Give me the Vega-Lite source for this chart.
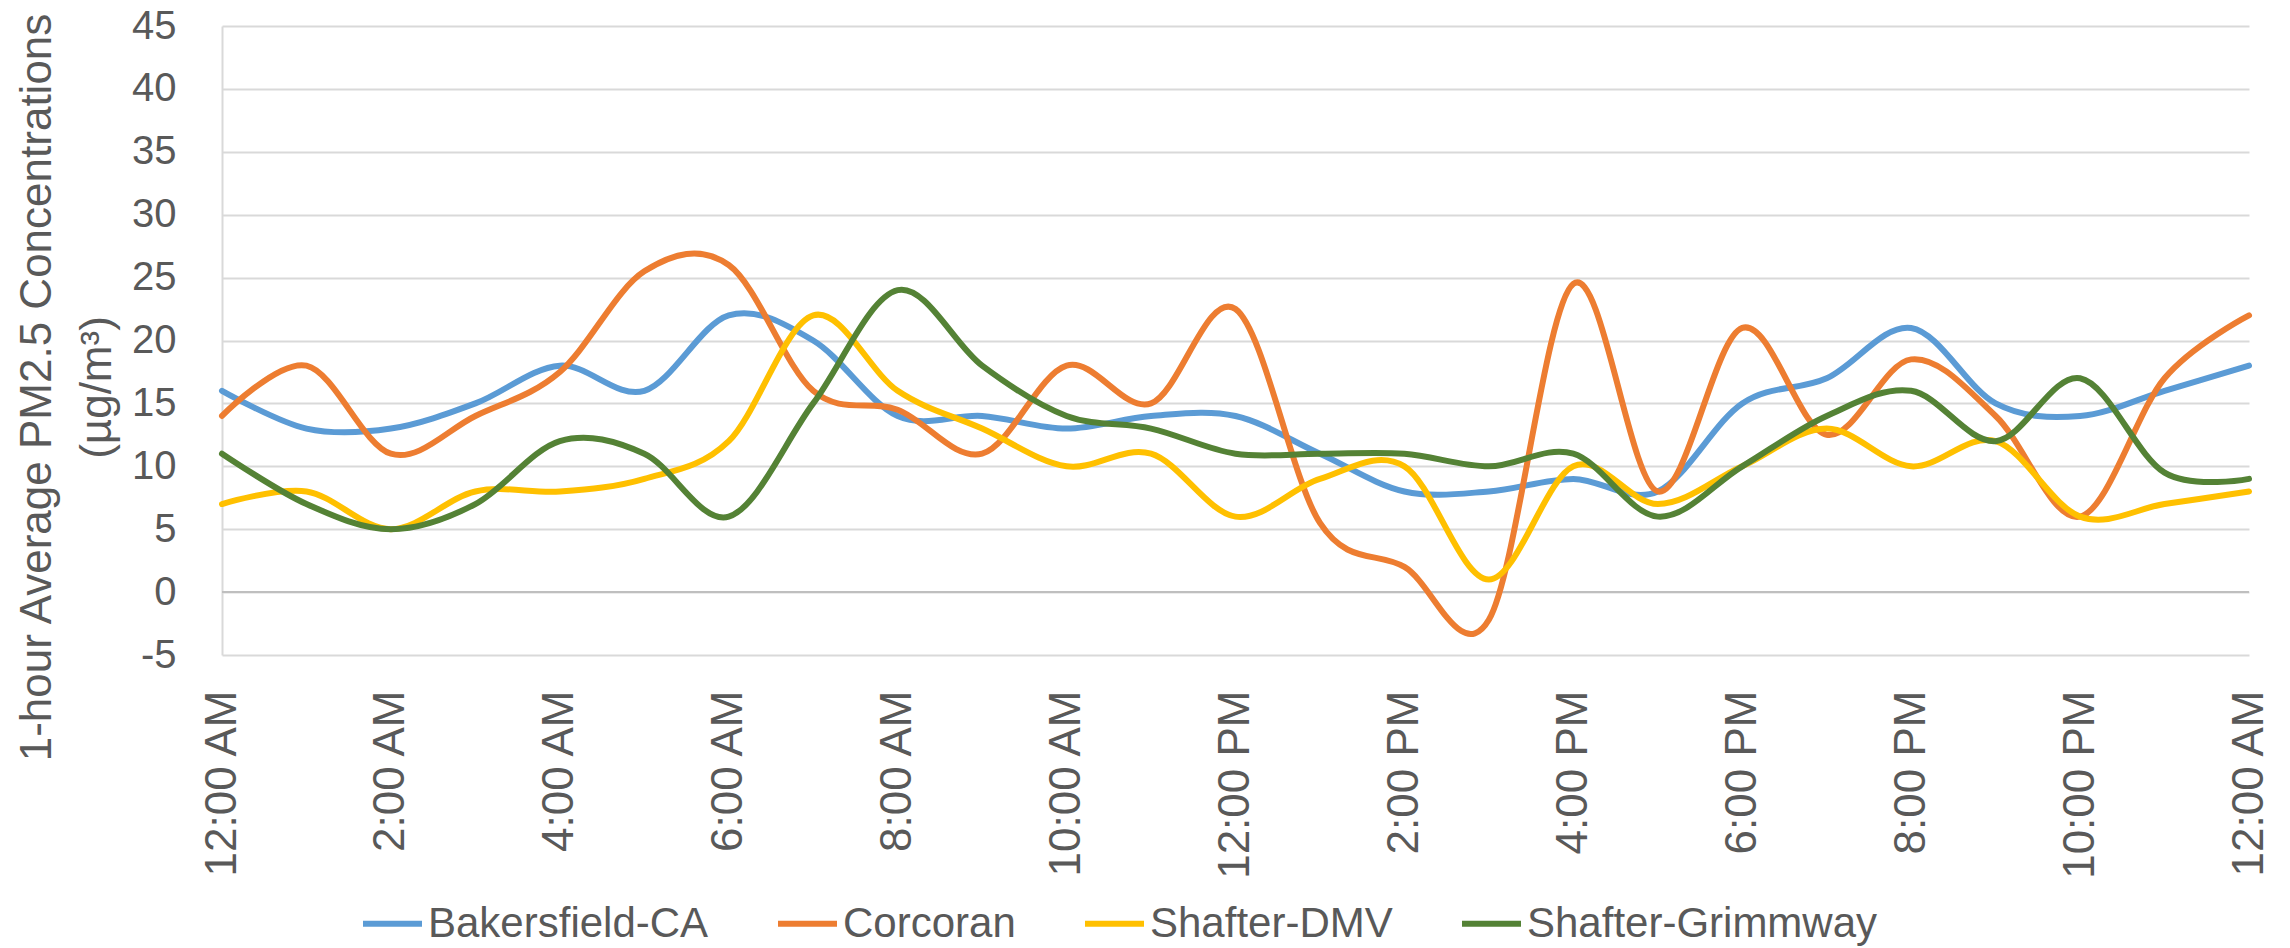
{
  "$schema": "https://vega.github.io/schema/vega-lite/v6.json",
  "width": 2027,
  "height": 629,
  "autosize": {"type": "none"},
  "padding": {"left": 222, "top": 26, "right": 41, "bottom": 293},
  "background": "white",
  "config": {"view": {"stroke": null}, "font": "Liberation Sans"},
  "datasets": {
    "pm": [
      {"hour": 0, "site": "Bakersfield-CA", "value": 16},
      {"hour": 1, "site": "Bakersfield-CA", "value": 13},
      {"hour": 2, "site": "Bakersfield-CA", "value": 13},
      {"hour": 3, "site": "Bakersfield-CA", "value": 15},
      {"hour": 4, "site": "Bakersfield-CA", "value": 18},
      {"hour": 5, "site": "Bakersfield-CA", "value": 16},
      {"hour": 6, "site": "Bakersfield-CA", "value": 22},
      {"hour": 7, "site": "Bakersfield-CA", "value": 20},
      {"hour": 8, "site": "Bakersfield-CA", "value": 14},
      {"hour": 9, "site": "Bakersfield-CA", "value": 14},
      {"hour": 10, "site": "Bakersfield-CA", "value": 13},
      {"hour": 11, "site": "Bakersfield-CA", "value": 14},
      {"hour": 12, "site": "Bakersfield-CA", "value": 14},
      {"hour": 13, "site": "Bakersfield-CA", "value": 11},
      {"hour": 14, "site": "Bakersfield-CA", "value": 8},
      {"hour": 15, "site": "Bakersfield-CA", "value": 8},
      {"hour": 16, "site": "Bakersfield-CA", "value": 9},
      {"hour": 17, "site": "Bakersfield-CA", "value": 8},
      {"hour": 18, "site": "Bakersfield-CA", "value": 15},
      {"hour": 19, "site": "Bakersfield-CA", "value": 17},
      {"hour": 20, "site": "Bakersfield-CA", "value": 21},
      {"hour": 21, "site": "Bakersfield-CA", "value": 15},
      {"hour": 22, "site": "Bakersfield-CA", "value": 14},
      {"hour": 23, "site": "Bakersfield-CA", "value": 16},
      {"hour": 24, "site": "Bakersfield-CA", "value": 18},
      {"hour": 0, "site": "Corcoran", "value": 14},
      {"hour": 1, "site": "Corcoran", "value": 18},
      {"hour": 2, "site": "Corcoran", "value": 11},
      {"hour": 3, "site": "Corcoran", "value": 14},
      {"hour": 4, "site": "Corcoran", "value": 17.5},
      {"hour": 5, "site": "Corcoran", "value": 25.5},
      {"hour": 6, "site": "Corcoran", "value": 26},
      {"hour": 7, "site": "Corcoran", "value": 16},
      {"hour": 8, "site": "Corcoran", "value": 14.5},
      {"hour": 9, "site": "Corcoran", "value": 11},
      {"hour": 10, "site": "Corcoran", "value": 18},
      {"hour": 11, "site": "Corcoran", "value": 15},
      {"hour": 12, "site": "Corcoran", "value": 22.5},
      {"hour": 13, "site": "Corcoran", "value": 5.5},
      {"hour": 14, "site": "Corcoran", "value": 2},
      {"hour": 15, "site": "Corcoran", "value": -2.2},
      {"hour": 16, "site": "Corcoran", "value": 24.5},
      {"hour": 17, "site": "Corcoran", "value": 8},
      {"hour": 18, "site": "Corcoran", "value": 21},
      {"hour": 19, "site": "Corcoran", "value": 12.5},
      {"hour": 20, "site": "Corcoran", "value": 18.5},
      {"hour": 21, "site": "Corcoran", "value": 14},
      {"hour": 22, "site": "Corcoran", "value": 6},
      {"hour": 23, "site": "Corcoran", "value": 17},
      {"hour": 24, "site": "Corcoran", "value": 22},
      {"hour": 0, "site": "Shafter-DMV", "value": 7},
      {"hour": 1, "site": "Shafter-DMV", "value": 8},
      {"hour": 2, "site": "Shafter-DMV", "value": 5},
      {"hour": 3, "site": "Shafter-DMV", "value": 8},
      {"hour": 4, "site": "Shafter-DMV", "value": 8},
      {"hour": 5, "site": "Shafter-DMV", "value": 9},
      {"hour": 6, "site": "Shafter-DMV", "value": 12},
      {"hour": 7, "site": "Shafter-DMV", "value": 22},
      {"hour": 8, "site": "Shafter-DMV", "value": 16},
      {"hour": 9, "site": "Shafter-DMV", "value": 13},
      {"hour": 10, "site": "Shafter-DMV", "value": 10},
      {"hour": 11, "site": "Shafter-DMV", "value": 11},
      {"hour": 12, "site": "Shafter-DMV", "value": 6},
      {"hour": 13, "site": "Shafter-DMV", "value": 9},
      {"hour": 14, "site": "Shafter-DMV", "value": 10},
      {"hour": 15, "site": "Shafter-DMV", "value": 1},
      {"hour": 16, "site": "Shafter-DMV", "value": 10},
      {"hour": 17, "site": "Shafter-DMV", "value": 7},
      {"hour": 18, "site": "Shafter-DMV", "value": 10},
      {"hour": 19, "site": "Shafter-DMV", "value": 13},
      {"hour": 20, "site": "Shafter-DMV", "value": 10},
      {"hour": 21, "site": "Shafter-DMV", "value": 12},
      {"hour": 22, "site": "Shafter-DMV", "value": 6},
      {"hour": 23, "site": "Shafter-DMV", "value": 7},
      {"hour": 24, "site": "Shafter-DMV", "value": 8},
      {"hour": 0, "site": "Shafter-Grimmway", "value": 11},
      {"hour": 1, "site": "Shafter-Grimmway", "value": 7},
      {"hour": 2, "site": "Shafter-Grimmway", "value": 5},
      {"hour": 3, "site": "Shafter-Grimmway", "value": 7},
      {"hour": 4, "site": "Shafter-Grimmway", "value": 12},
      {"hour": 5, "site": "Shafter-Grimmway", "value": 11},
      {"hour": 6, "site": "Shafter-Grimmway", "value": 6},
      {"hour": 7, "site": "Shafter-Grimmway", "value": 15},
      {"hour": 8, "site": "Shafter-Grimmway", "value": 24},
      {"hour": 9, "site": "Shafter-Grimmway", "value": 18},
      {"hour": 10, "site": "Shafter-Grimmway", "value": 14},
      {"hour": 11, "site": "Shafter-Grimmway", "value": 13},
      {"hour": 12, "site": "Shafter-Grimmway", "value": 11},
      {"hour": 13, "site": "Shafter-Grimmway", "value": 11},
      {"hour": 14, "site": "Shafter-Grimmway", "value": 11},
      {"hour": 15, "site": "Shafter-Grimmway", "value": 10},
      {"hour": 16, "site": "Shafter-Grimmway", "value": 11},
      {"hour": 17, "site": "Shafter-Grimmway", "value": 6},
      {"hour": 18, "site": "Shafter-Grimmway", "value": 10},
      {"hour": 19, "site": "Shafter-Grimmway", "value": 14},
      {"hour": 20, "site": "Shafter-Grimmway", "value": 16},
      {"hour": 21, "site": "Shafter-Grimmway", "value": 12},
      {"hour": 22, "site": "Shafter-Grimmway", "value": 17},
      {"hour": 23, "site": "Shafter-Grimmway", "value": 9.5},
      {"hour": 24, "site": "Shafter-Grimmway", "value": 9}
    ],
    "axisline": [{"v": 0}]
  },
  "layer": [
    {
      "data": {"name": "axisline"},
      "mark": {"type": "rule", "color": "#bfbfbf", "strokeWidth": 2},
      "encoding": {"y": {"field": "v", "type": "quantitative"}}
    },
    {
      "data": {"name": "pm"},
      "mark": {"type": "line", "interpolate": "cardinal", "strokeWidth": 6, "strokeCap": "round", "strokeJoin": "round"},
      "encoding": {
        "x": {
          "field": "hour",
          "type": "quantitative",
          "scale": {"domain": [0, 24], "nice": false, "zero": false},
          "axis": {
            "values": [0, 2, 4, 6, 8, 10, 12, 14, 16, 18, 20, 22, 24],
            "labelExpr": "(datum.value == 0 || datum.value == 24) ? '12:00 AM' : (datum.value == 12 ? '12:00 PM' : (datum.value < 12 ? datum.value + ':00 AM' : (datum.value - 12) + ':00 PM'))",
            "labelAngle": 270,
            "labelAlign": "right",
            "labelBaseline": "middle",
            "labelFontSize": 44,
            "labelColor": "#595959",
            "labelPadding": 35,
            "labelLimit": 0,
            "labelOverlap": false,
            "labelFlush": false,
            "grid": false,
            "domain": false,
            "ticks": false,
            "tickSize": 0,
            "title": null
          }
        },
        "y": {
          "field": "value",
          "type": "quantitative",
          "scale": {"domain": [-5, 45], "nice": false, "zero": false},
          "axis": {
            "values": [-5, 0, 5, 10, 15, 20, 25, 30, 35, 40, 45],
            "labelExpr": "'' + datum.value",
            "grid": true,
            "gridColor": "#d9d9d9",
            "gridWidth": 2,
            "domain": true,
            "domainColor": "#d9d9d9",
            "domainWidth": 2,
            "ticks": false,
            "tickSize": 0,
            "labelFontSize": 40,
            "labelColor": "#595959",
            "labelPadding": 46,
            "title": ["1-hour Average PM2.5 Concentrations", "(µg/m³)"],
            "titleFontSize": 44,
            "titleFontWeight": "normal",
            "titleColor": "#595959",
            "titleAngle": 270,
            "titleAlign": "center",
            "titleBaseline": "alphabetic",
            "titleLineHeight": 60,
            "titleX": -172,
            "titleY": 361,
            "titleLimit": 0
          }
        },
        "color": {
          "field": "site",
          "type": "nominal",
          "scale": {
            "domain": ["Bakersfield-CA", "Corcoran", "Shafter-DMV", "Shafter-Grimmway"],
            "range": ["#5B9BD5", "#ED7D31", "#FFC000", "#548235"]
          },
          "legend": {
            "orient": "none",
            "legendX": 138,
            "legendY": 865,
            "direction": "horizontal",
            "title": null,
            "symbolType": "stroke",
            "symbolStrokeWidth": 6,
            "symbolSize": 3481,
            "labelFontSize": 42,
            "labelColor": "#595959",
            "labelOffset": 3,
            "labelLimit": 0,
            "columnPadding": 57,
            "padding": 0
          }
        }
      }
    }
  ]
}
